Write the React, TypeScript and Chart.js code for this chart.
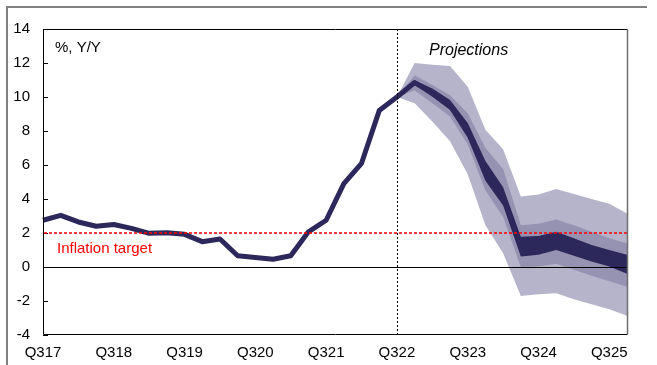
import { useEffect, useRef } from 'react';
import { Chart, registerables } from 'chart.js';

Chart.register(...registerables);

const categories = [
  'Q317', 'Q417', 'Q118', 'Q218', 'Q318', 'Q418', 'Q119', 'Q219', 'Q319', 'Q419',
  'Q120', 'Q220', 'Q320', 'Q420', 'Q121', 'Q221', 'Q321', 'Q421', 'Q122', 'Q222',
  'Q322', 'Q422', 'Q123', 'Q223', 'Q323', 'Q423', 'Q124', 'Q224', 'Q324', 'Q424',
  'Q125', 'Q225', 'Q325', 'Q425',
];

const inflation = [
  2.75, 3.04, 2.65, 2.4, 2.5, 2.27, 1.98, 2.01, 1.92, 1.49,
  1.65, 0.66, 0.56, 0.46, 0.66, 2.07, 2.75, 4.9, 6.1, 9.2,
  10.0, 10.85, 10.26, 9.53, 8.03, 5.66, 4.15, 1.2, 1.27, 1.53,
  1.17, 0.8, 0.5, 0.15,
];

const historyGap = [null, null, null, null, null, null, null, null, null, null,
  null, null, null, null, null, null, null, null, null, null];

const darkUpper = [10.0, 10.99, 10.5, 9.83, 8.47, 6.24, 4.69, 1.78, 1.82, 2.07, 1.69, 1.3, 1.0, 0.72];
const darkLower = [10.0, 10.7, 10.02, 9.24, 7.6, 5.08, 3.62, 0.62, 0.72, 1.0, 0.66, 0.33, 0.03, -0.39];
const midUpper = [10.0, 11.28, 10.7, 10.1, 9.05, 7.0, 5.76, 2.46, 2.55, 2.79, 2.46, 2.07, 1.69, 1.39];
const midLower = [10.0, 10.4, 9.63, 8.85, 7.2, 4.5, 2.94, 0.0, 0.03, 0.19, -0.16, -0.51, -0.84, -1.16];
const lightUpper = [10.0, 12.0, 11.9, 11.82, 10.6, 8.08, 6.92, 4.15, 4.26, 4.59, 4.3, 4.0, 3.72, 3.14];
const lightLower = [10.0, 9.63, 8.56, 7.4, 5.46, 2.46, 0.81, -1.71, -1.61, -1.55, -1.9, -2.19, -2.48, -2.87];

const yTicks = [14, 12, 10, 8, 6, 4, 2, 0, -2, -4];
const inflationTarget = 2;
const projectionStart = 'Q322';

const NAVY = 'rgb(45,40,92)';
const MID = 'rgb(150,146,178)';
const LIGHT = 'rgb(182,180,203)';
const RED = '#ff0000';
const FONT = "'Liberation Sans', Arial, sans-serif";

const band = (vals: number[]) => [...historyGap, ...vals];

const overlay = {
  id: 'overlay',
  beforeDraw(chart: any) {
    const ctx = chart.ctx;
    ctx.save();
    ctx.fillStyle = '#fff';
    ctx.fillRect(0, 0, chart.width, chart.height);
    ctx.strokeStyle = '#808080';
    ctx.lineWidth = 2;
    ctx.beginPath();
    ctx.moveTo(7, chart.height);
    ctx.lineTo(7, 7);
    ctx.lineTo(647, 7);
    ctx.stroke();
    ctx.restore();
  },
  afterDatasetsDraw(chart: any) {
    const { ctx, chartArea: a, scales } = chart;
    const x = scales.x;
    const y = scales.y;
    ctx.save();
    // zero line
    const y0 = Math.round(y.getPixelForValue(0)) + 0.5;
    ctx.strokeStyle = '#000';
    ctx.lineWidth = 1;
    ctx.beginPath();
    ctx.moveTo(a.left, y0);
    ctx.lineTo(a.right, y0);
    ctx.stroke();
    // projection divider
    const xp = Math.round(x.getPixelForValue(categories.indexOf(projectionStart))) + 0.5;
    ctx.setLineDash([2, 2]);
    ctx.beginPath();
    ctx.moveTo(xp, a.top);
    ctx.lineTo(xp, a.bottom);
    ctx.stroke();
    ctx.setLineDash([]);
    // y tick marks inside
    yTicks.forEach((v) => {
      const py = Math.round(y.getPixelForValue(v)) + 0.5;
      ctx.beginPath();
      ctx.moveTo(a.left, py);
      ctx.lineTo(a.left + 5, py);
      ctx.stroke();
    });
    // inflation target
    const yt = Math.round(y.getPixelForValue(inflationTarget));
    ctx.strokeStyle = RED;
    ctx.lineWidth = 1.6;
    ctx.setLineDash([3, 2]);
    ctx.beginPath();
    ctx.moveTo(a.left + 1, yt);
    ctx.lineTo(a.right, yt);
    ctx.stroke();
    ctx.setLineDash([]);
    // plot box
    const L = Math.round(a.left) + 0.5;
    const T = Math.round(a.top) + 0.5;
    const B = Math.round(a.bottom) - 0.5;
    const R = Math.round(a.right) + 0.5;
    ctx.strokeStyle = '#000';
    ctx.lineWidth = 1;
    ctx.beginPath();
    ctx.moveTo(R, T);
    ctx.lineTo(L, T);
    ctx.lineTo(L, B);
    ctx.lineTo(R, B);
    ctx.stroke();
    ctx.strokeStyle = '#6e6e6e';
    ctx.lineWidth = 1.5;
    ctx.beginPath();
    ctx.moveTo(R, T);
    ctx.lineTo(R, B);
    ctx.stroke();
    // texts
    ctx.textBaseline = 'middle';
    ctx.textAlign = 'left';
    ctx.fillStyle = '#000';
    ctx.font = `15px ${FONT}`;
    ctx.fillText('%, Y/Y', 55, 48);
    ctx.font = `italic 16px ${FONT}`;
    ctx.fillText('Projections', 429, 51);
    ctx.fillStyle = RED;
    ctx.font = `15px ${FONT}`;
    ctx.fillText('Inflation target', 57, 249);
    ctx.restore();
  },
};

export default function App() {
  const ref = useRef<HTMLCanvasElement>(null);
  useEffect(() => {
    document.body.style.margin = '0';
    Chart.defaults.font.family = FONT;
    const bandDs = (data: any[], fill: any, color: string) => ({
      data,
      borderWidth: 0,
      pointRadius: 0,
      backgroundColor: color,
      borderColor: color,
      fill,
    });
    const chart = new Chart(ref.current as HTMLCanvasElement, {
      type: 'line',
      data: {
        labels: categories,
        datasets: [
          {
            data: inflation,
            borderColor: NAVY,
            borderWidth: 5,
            pointRadius: 0,
            fill: false,
            tension: 0,
            borderJoinStyle: 'round',
            borderCapStyle: 'butt',
          } as any,
          bandDs(band(darkUpper), '+1', NAVY),
          bandDs(band(darkLower), false, NAVY),
          bandDs(band(midUpper), '+1', MID),
          bandDs(band(midLower), false, MID),
          bandDs(band(lightUpper), '+1', LIGHT),
          bandDs(band(lightLower), false, LIGHT),
        ],
      },
      options: {
        animation: false,
        responsive: false,
        maintainAspectRatio: false,
        layout: { padding: { top: 29, right: 30, left: 0, bottom: 0 } },
        plugins: {
          legend: { display: false },
          tooltip: { enabled: false },
        },
        scales: {
          x: {
            type: 'category',
            offset: false,
            grid: { display: false, drawTicks: false },
            border: { display: false },
            ticks: {
              autoSkip: false,
              maxRotation: 0,
              minRotation: 0,
              padding: 9,
              color: '#000',
              font: { size: 15, family: FONT },
              callback: (_v: any, i: number) => (i % 4 === 0 ? categories[i] : ''),
            },
            afterFit: (s: any) => {
              s.height = 30;
            },
          },
          y: {
            min: -4,
            max: 14,
            grid: { display: false, drawTicks: false },
            border: { display: false },
            ticks: {
              stepSize: 2,
              padding: 13,
              color: '#000',
              font: { size: 15, family: FONT },
            },
            afterFit: (s: any) => {
              s.width = 43;
            },
          },
        },
      } as any,
      plugins: [overlay],
    });
    return () => chart.destroy();
  }, []);
  return (
    <div style={{ width: 657, height: 365 }}>
      <canvas ref={ref} width={657} height={365} style={{ display: 'block' }} />
    </div>
  );
}
